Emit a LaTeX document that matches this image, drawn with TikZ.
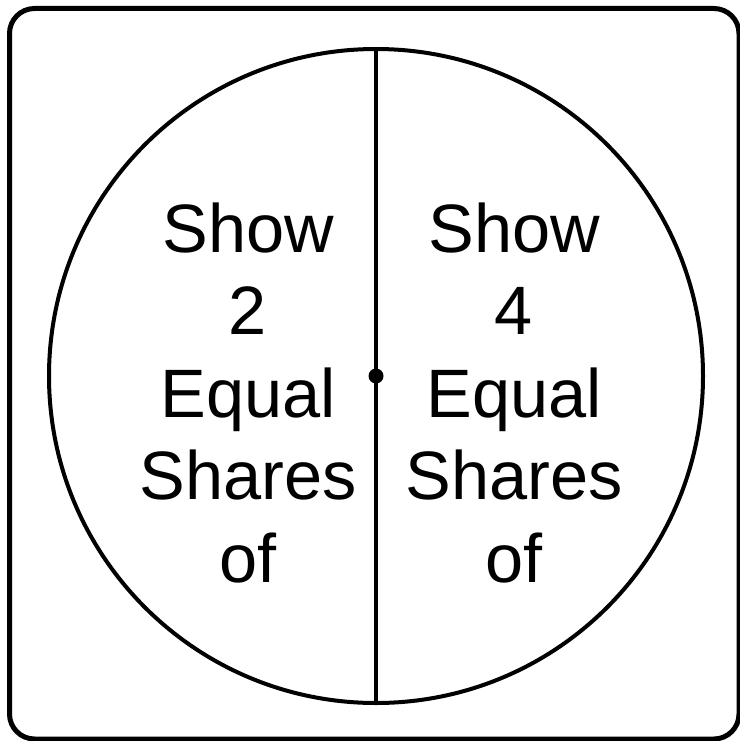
\documentclass[tikz,border=0pt]{standalone}
\usepackage{fontspec}
\setmainfont{Liberation Sans}
\tikzset{
  frame/.style={draw=black, line width=5pt, rounded corners=25pt},
  plate/.style={draw=black, line width=4pt},
  divider/.style={draw=black, line width=4.2pt},
  label/.style={align=center, inner sep=0pt, anchor=base,
    font=\fontsize{68.5}{82.5}\selectfont}
}
\begin{document}
\begin{tikzpicture}[x=1pt, y=-1pt]
\useasboundingbox (0,0) rectangle (739,741);
\draw[frame] (9.5,8.5) rectangle (739,739);
\coordinate (c) at (376,376);
\node[plate, circle, minimum size=654pt, inner sep=0pt] (plate) at (c) {};
\draw[divider] (plate.north) -- (plate.south);
\fill (c) circle (7.5pt);
\node[label] (left) at (248,582) {Show\\2\\Equal\\Shares\\of};
\node[label] (right) at (514,582) {Show\\4\\Equal\\Shares\\of};
\end{tikzpicture}
\end{document}
